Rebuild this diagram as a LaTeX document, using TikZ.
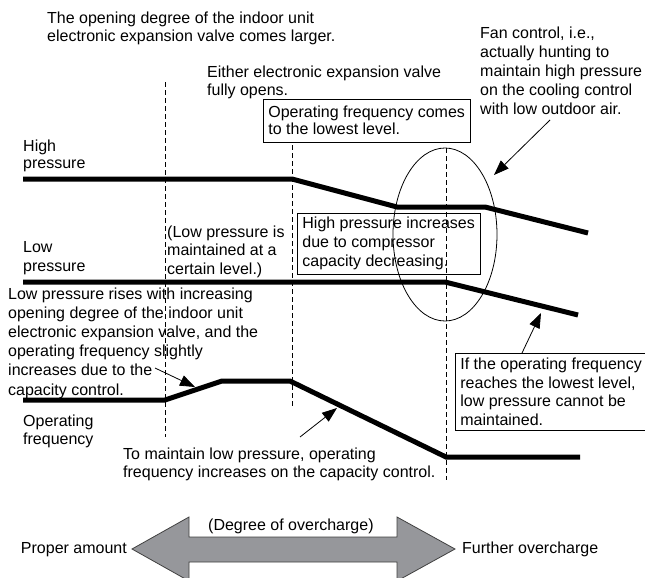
\documentclass[tikz,border=0pt]{standalone}
\usepackage{fontspec}
\setmainfont{Liberation Sans}
\usetikzlibrary{arrows.meta}
\definecolor{arrowgray}{RGB}{150,151,155}

\tikzset{
  curve/.style={line width=5pt, line join=miter},
  guide/.style={line width=0.8pt, dash pattern=on 5pt off 3pt},
  note/.style={inner sep=0pt, align=left, anchor=north west, font=\fontsize{16}{18.8}\selectfont},
  notebox/.style={note, draw, line width=0.8pt, inner xsep=5pt, inner ysep=5pt},
  pointer/.style={line width=0.8pt, -{Triangle[length=15pt,width=11pt]}}
}

\begin{document}
\begin{tikzpicture}[x=1pt, y=-1pt]
  \clip (0,0) rectangle (645,578);

  % Texts above the graph
  \node[note] (valve) at (47,11.4) {The opening degree of the indoor unit\\electronic expansion valve comes larger.};
  \node[note] (fullopen) at (207,65.4) {Either electronic expansion valve\\fully opens.};
  \node[notebox, inner ysep=7pt, font=\fontsize{16}{17}\selectfont] (lowest) at (263,99) {Operating frequency comes\\to the lowest level.};
  \node[note, font=\fontsize{16}{19.2}\selectfont] (fan) at (480,26.4) {Fan control, i.e.,\\actually hunting to\\maintain high pressure\\on the cooling control\\with low outdoor air.};

  % Dashed guides
  \coordinate (g1top) at (165,82);   \coordinate (g1bot) at (165,437);
  \coordinate (g2top) at (292,145);  \coordinate (g2bot) at (292,407);
  \coordinate (g3top) at (446,148);  \coordinate (g3bot) at (446,480);
  \draw[guide] (g1top) -- (g1bot);
  \draw[guide] (g2top) -- (g2bot);
  \draw[guide] (g3top) -- (g3bot);

  % High pressure
  \node[note, font=\fontsize{16}{17.5}\selectfont] (hplabel) at (23,139.4) {High\\pressure};
  \coordinate (hp0) at (23,179);  \coordinate (hp1) at (292,179);
  \coordinate (hp2) at (397,207); \coordinate (hp3) at (485,207);
  \coordinate (hp4) at (588,233);
  \draw[curve] (hp0) -- (hp1) -- (hp2) -- (hp3) -- (hp4);

  % Low pressure
  \node[note] (lplabel) at (23,241.4) {Low\\pressure};
  \node[note, font=\fontsize{16}{18.5}\selectfont] (lpkept) at (167,225.4) {(Low pressure is\\maintained at a\\certain level.)};
  \node[notebox, inner ysep=4pt] (hpbox) at (297,213) {High pressure increases\\due to compressor\\capacity decreasing.};
  \coordinate (lp0) at (23,282);  \coordinate (lp1) at (445,282);
  \coordinate (lp2) at (578,315);
  \draw[curve] (lp0) -- (lp1) -- (lp2);

  % Hunting area
  \draw[line width=0.8pt] (445,234.5) ellipse [x radius=52, y radius=86.5];

  % Operating frequency
  \node[note, font=\fontsize{16}{19.2}\selectfont] (lprise) at (8,287.4) {Low pressure rises with increasing\\opening degree of the indoor unit\\electronic expansion valve, and the\\operating frequency slightly\\increases due to the\\capacity control.};
  \node[note, font=\fontsize{16}{18.5}\selectfont] (oflabel) at (23,414.4) {Operating\\frequency};
  \node[note] (ofup) at (123,447.4) {To maintain low pressure, operating\\frequency increases on the capacity control.};
  \node[notebox, inner ysep=4.5pt, font=\fontsize{16}{18.7}\selectfont] (ifbox) at (455,353) {If the operating frequency\\reaches the lowest level,\\low pressure cannot be\\maintained.};
  \coordinate (of0) at (23,400);  \coordinate (of1) at (165,400);
  \coordinate (of2) at (222,381); \coordinate (of3) at (290,381);
  \coordinate (of4) at (446,457); \coordinate (of5) at (580,457);
  \draw[curve] (of0) -- (of1) -- (of2) -- (of3) -- (of4) -- (of5);

  % Pointers
  \coordinate (fanfrom) at (550,120);  \coordinate (fanto) at (494,175);
  \coordinate (iffrom) at (522,353);   \coordinate (ifto) at (541,313);
  \coordinate (risefrom) at (155,368); \coordinate (riseto) at (195,387);
  \coordinate (upfrom) at (300,437);   \coordinate (upto) at (337,408);
  \draw[pointer] (fanfrom) -- (fanto);
  \draw[pointer] (iffrom) -- (ifto);
  \draw[pointer] (risefrom) -- (riseto);
  \draw[pointer] (upfrom) -- (upto);

  % Degree of overcharge
  \coordinate (tipL) at (132,549);
  \coordinate (tipR) at (455,549);
  \filldraw[fill=arrowgray, draw=black!75, line width=0.8pt] (tipL) -- (189,517) -- (189,537) -- (397,537) -- (397,517) -- (tipR) -- (397,581) -- (397,562) -- (189,562) -- (189,581) -- cycle;
  \node[note, anchor=base west] (degree) at (208,530) {(Degree of overcharge)};
  \node[note, anchor=base east] (proper) at (127,553) {Proper amount};
  \node[note, anchor=base west] (further) at (462,553) {Further overcharge};
\end{tikzpicture}
\end{document}
